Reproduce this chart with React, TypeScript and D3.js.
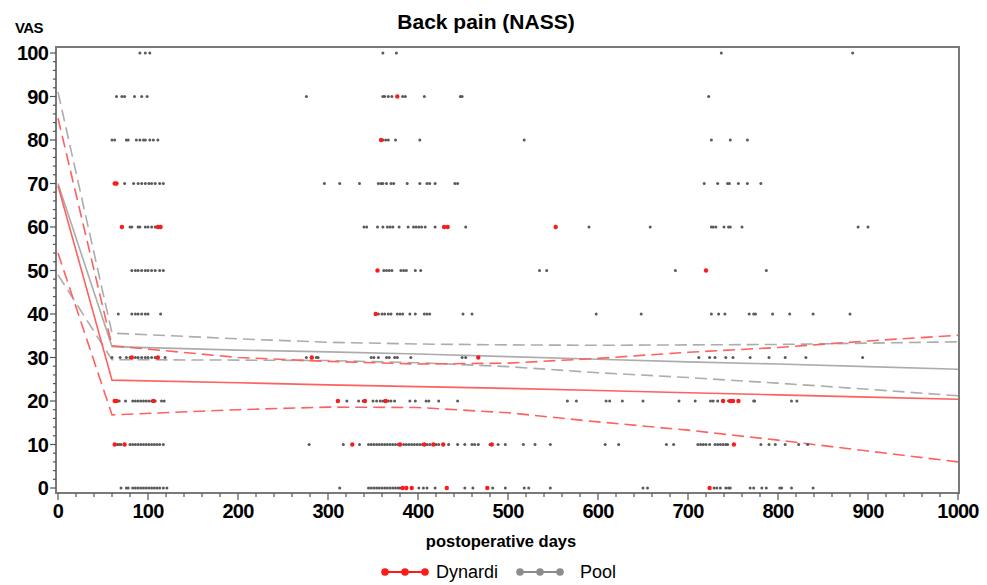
import React, { useRef, useEffect } from "react";
import * as d3 from "d3";

// fitted curves (days -> VAS)
const fitDays = [0, 60, 200, 300, 400, 500, 600, 700, 800, 900, 1000];
const dynardiFit = [69.5, 24.8, 24.2, 23.7, 23.3, 22.9, 22.4, 21.9, 21.4, 20.9, 20.4];
const dynardiUpper = [85, 32.7, 30.0, 29.1, 28.5, 28.7, 29.8, 31.2, 32.3, 33.8, 35.1];
const dynardiLower = [54, 16.8, 18.0, 18.6, 18.5, 17.3, 15.2, 13.3, 11.0, 8.5, 6.0];
const poolFit = [70, 32.5, 31.7, 31.3, 30.8, 30.2, 29.6, 29.0, 28.5, 27.9, 27.3];
const poolUpper = [91, 35.6, 34.3, 33.5, 33.1, 32.9, 32.8, 32.9, 33.0, 33.3, 33.6];
const poolLower = [49, 29.5, 29.4, 29.3, 28.8, 27.9, 26.5, 25.4, 24.1, 22.7, 21.2];

// observations: [VAS, days[]]
const dynardiPoints: [number, number[]][] = [
  [90, [377]],
  [80, [359]],
  [70, [63, 65]],
  [60, [71, 111, 114, 429, 433, 553]],
  [50, [355, 720]],
  [40, [353]],
  [30, [82, 111, 282, 467]],
  [20, [63, 65, 106, 311, 341, 364, 739, 747, 750, 756]],
  [10, [63, 74, 327, 380, 407, 417, 428, 482, 751]],
  [0, [383, 387, 393, 432, 477, 724]],
];

const poolPoints: [number, number[]][] = [
  [100, [91, 97, 102, 361, 376, 737, 883]],
  [90, [65, 71, 74, 85, 93, 99, 276, 361, 363, 367, 371, 383, 386, 407, 447, 449, 723]],
  [80, [60, 63, 76, 78, 87, 91, 95, 97, 102, 106, 111, 361, 364, 367, 375, 402, 518, 726, 747, 766]],
  [70, [74, 84, 89, 93, 97, 101, 104, 108, 113, 117, 296, 313, 335, 356, 359, 361, 365, 370, 373, 388, 402, 410, 413, 419, 441, 444, 718, 733, 744, 746, 756, 766, 781]],
  [60, [80, 82, 89, 91, 97, 100, 104, 108, 340, 343, 355, 361, 366, 369, 372, 379, 389, 395, 398, 401, 404, 408, 419, 453, 590, 658, 726, 728, 731, 740, 745, 747, 760, 889, 900]],
  [50, [82, 86, 89, 93, 97, 100, 104, 108, 113, 117, 362, 365, 368, 371, 381, 384, 387, 397, 403, 535, 543, 686, 787]],
  [40, [67, 82, 86, 89, 93, 97, 100, 114, 356, 360, 363, 367, 370, 377, 380, 383, 391, 397, 407, 410, 413, 450, 460, 598, 648, 726, 734, 741, 768, 773, 775, 794, 813, 839, 880]],
  [30, [60, 69, 76, 80, 86, 89, 93, 97, 100, 104, 108, 119, 276, 287, 289, 348, 351, 356, 365, 368, 374, 377, 392, 449, 453, 712, 724, 730, 742, 750, 769, 790, 808, 831, 894]],
  [20, [68, 75, 83, 86, 89, 92, 95, 98, 101, 104, 108, 115, 118, 321, 334, 339, 350, 354, 358, 361, 367, 370, 374, 391, 397, 409, 412, 423, 444, 566, 576, 609, 613, 627, 650, 690, 708, 725, 728, 733, 745, 773, 774, 815, 821]],
  [10, [66, 68, 70, 80, 83, 86, 89, 92, 95, 98, 101, 104, 107, 110, 113, 117, 279, 317, 335, 345, 348, 351, 354, 357, 360, 363, 366, 369, 372, 375, 378, 384, 387, 390, 393, 396, 399, 402, 405, 410, 413, 420, 423, 434, 444, 452, 460, 463, 467, 480, 489, 497, 517, 530, 547, 608, 623, 676, 684, 711, 714, 717, 720, 724, 730, 733, 736, 739, 742, 744, 781, 790, 797, 808, 823, 833]],
  [0, [70, 76, 78, 83, 86, 89, 92, 95, 98, 101, 104, 107, 110, 113, 117, 121, 313, 345, 348, 351, 354, 357, 360, 363, 366, 369, 372, 375, 378, 380, 401, 406, 410, 419, 452, 461, 483, 497, 518, 523, 547, 650, 655, 729, 732, 736, 742, 745, 747, 769, 773, 782, 787, 802, 804, 815, 839]],
];

const xTicks = [0, 100, 200, 300, 400, 500, 600, 700, 800, 900, 1000];
const yTicks = [0, 10, 20, 30, 40, 50, 60, 70, 80, 90, 100];

const Chart = () => {
  const svgRef = useRef<SVGSVGElement>(null);
  const width = 987;
  const height = 585;

  useEffect(() => {
    const svg = d3.select(svgRef.current);
    svg.selectAll("*").remove();

    const x = d3.scaleLinear().domain([0, 1000]).range([58, 958]);
    const y = d3.scaleLinear().domain([0, 100]).range([488, 53]);
    const font = "Arial, 'Liberation Sans', sans-serif";

    // frame
    svg
      .append("rect")
      .attr("x", 56)
      .attr("y", 47)
      .attr("width", 903)
      .attr("height", 446)
      .attr("fill", "none")
      .attr("stroke", "#7a7a7a")
      .attr("stroke-width", 2);

    // y axis ticks
    const yMinor = d3.range(0, 101, 2);
    svg
      .append("g")
      .selectAll("line")
      .data(yMinor)
      .join("line")
      .attr("x1", (d) => (d % 10 === 0 ? 50 : 53))
      .attr("x2", 56)
      .attr("y1", (d) => y(d))
      .attr("y2", (d) => y(d))
      .attr("stroke", "#555")
      .attr("stroke-width", 1.2);

    svg
      .append("g")
      .selectAll("text")
      .data(yTicks)
      .join("text")
      .attr("x", 48)
      .attr("y", (d) => y(d) + 7)
      .attr("text-anchor", "end")
      .attr("font-family", font)
      .attr("font-weight", "bold")
      .attr("font-size", 20)
      .attr("letter-spacing", -0.8)
      .text((d) => d);

    // x axis ticks
    const xMinor = d3.range(0, 1001, 20);
    svg
      .append("g")
      .selectAll("line")
      .data(xMinor)
      .join("line")
      .attr("x1", (d) => x(d))
      .attr("x2", (d) => x(d))
      .attr("y1", 493)
      .attr("y2", (d) => (d % 100 === 0 ? 500 : 497))
      .attr("stroke", "#555")
      .attr("stroke-width", 1.2);

    svg
      .append("g")
      .selectAll("text")
      .data(xTicks)
      .join("text")
      .attr("x", (d) => x(d))
      .attr("y", 518)
      .attr("text-anchor", "middle")
      .attr("font-family", font)
      .attr("font-weight", "bold")
      .attr("font-size", 20)
      .attr("letter-spacing", -0.8)
      .text((d) => d);

    // fitted lines
    const line = d3
      .line<number>()
      .x((_, i) => x(fitDays[i]))
      .y((d) => y(d));

    const curves = [
      { v: poolUpper, c: "#acacac", dash: "12,6" },
      { v: poolLower, c: "#acacac", dash: "12,6" },
      { v: poolFit, c: "#acacac", dash: null },
      { v: dynardiUpper, c: "#ff6060", dash: "12,6" },
      { v: dynardiLower, c: "#ff6060", dash: "12,6" },
      { v: dynardiFit, c: "#ff6060", dash: null },
    ];
    curves.forEach((cv) => {
      svg
        .append("path")
        .datum(cv.v)
        .attr("fill", "none")
        .attr("stroke", cv.c)
        .attr("stroke-width", 1.6)
        .attr("stroke-dasharray", cv.dash)
        .attr("d", line);
    });

    // points
    const flat = (rows: [number, number[]][]) =>
      rows.flatMap(([v, days]) => days.map((d) => [d, v] as [number, number]));

    svg
      .append("g")
      .selectAll("circle")
      .data(flat(poolPoints))
      .join("circle")
      .attr("cx", (d) => x(d[0]))
      .attr("cy", (d) => y(d[1]))
      .attr("r", 1.5)
      .attr("fill", "#5a5a5a");

    svg
      .append("g")
      .selectAll("circle")
      .data(flat(dynardiPoints))
      .join("circle")
      .attr("cx", (d) => x(d[0]))
      .attr("cy", (d) => y(d[1]))
      .attr("r", 2.2)
      .attr("fill", "#ff1a1a");

    // titles
    svg
      .append("text")
      .attr("x", 486)
      .attr("y", 29)
      .attr("text-anchor", "middle")
      .attr("font-family", font)
      .attr("font-weight", "bold")
      .attr("font-size", 21)
      .text("Back pain (NASS)");

    svg
      .append("text")
      .attr("x", 15)
      .attr("y", 33)
      .attr("font-family", font)
      .attr("font-weight", "bold")
      .attr("font-size", 15)
      .attr("letter-spacing", -0.6)
      .text("VAS");

    svg
      .append("text")
      .attr("x", 501)
      .attr("y", 547)
      .attr("text-anchor", "middle")
      .attr("font-family", font)
      .attr("font-weight", "bold")
      .attr("font-size", 16.5)
      .text("postoperative days");

    // legend
    const legend = [
      { name: "Dynardi", c: "#ff1a1a", x0: 385, tx: 436 },
      { name: "Pool", c: "#8c8c8c", x0: 520, tx: 580 },
    ];
    legend.forEach((l) => {
      const g = svg.append("g");
      g.append("line")
        .attr("x1", l.x0)
        .attr("x2", l.x0 + 40)
        .attr("y1", 572)
        .attr("y2", 572)
        .attr("stroke", l.c)
        .attr("stroke-width", 2);
      g.selectAll("circle")
        .data([0, 20, 40])
        .join("circle")
        .attr("cx", (d) => l.x0 + d)
        .attr("cy", 572)
        .attr("r", 3.8)
        .attr("fill", l.c);
      g.append("text")
        .attr("x", l.tx)
        .attr("y", 578)
        .attr("font-family", font)
        .attr("font-size", 18)
        .text(l.name);
    });
  }, []);

  return (
    <svg
      ref={svgRef}
      width={width}
      height={height}
      style={{ position: "absolute", left: 0, top: 0, background: "#fff" }}
    />
  );
};

export default function App() {
  return <Chart />;
}
